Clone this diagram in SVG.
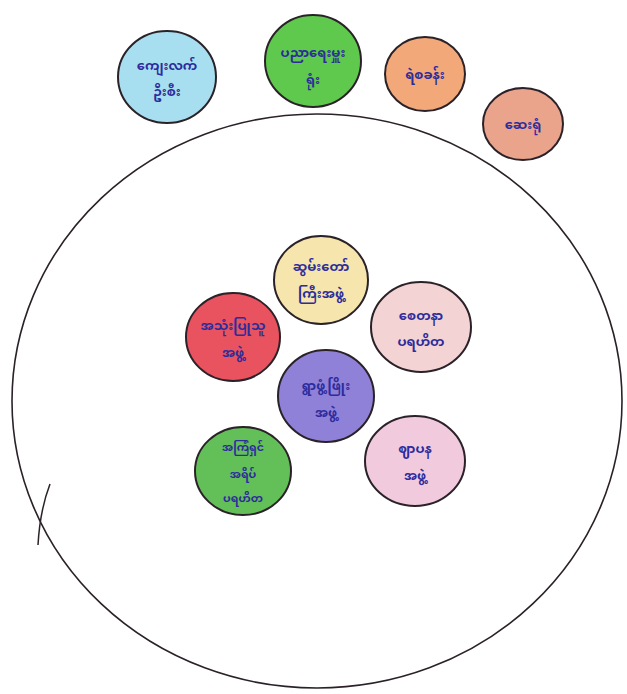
<svg xmlns="http://www.w3.org/2000/svg" width="627" height="694" viewBox="0 0 627 694">
<style>
.c{stroke:#2a2228;stroke-width:2}
.t{font-family:"Noto Sans Myanmar","Padauk","Myanmar Text","Noto Sans",sans-serif;font-size:13px;fill:#2c2c9c;text-anchor:middle;font-weight:bold}
.s{font-size:11px}
</style>
<rect width="627" height="694" fill="#ffffff"/>
<g id="community">
<ellipse cx="317" cy="401" rx="305" ry="287" fill="none" stroke="#2a2228" stroke-width="1.6"/>
<path d="M50 484 Q40 510 38 545" fill="none" stroke="#2a2228" stroke-width="1.5"/>
</g>
<g id="connectors"></g>
<g id="n1"><ellipse class="c" cx="167" cy="77" rx="49" ry="46" fill="#a8dff0"/><text class="t" x="167" y="70">ကျေးလက်</text><text class="t" x="167" y="96">ဦးစီး</text></g>
<g id="n2"><ellipse class="c" cx="313" cy="61" rx="48" ry="46" fill="#5ec94c"/><text class="t" x="313" y="57">ပညာရေးမှူး</text><text class="t" x="313" y="84">ရုံး</text></g>
<g id="n3"><ellipse class="c" cx="425" cy="74" rx="40" ry="37" fill="#f2a878"/><text class="t" x="425" y="79">ရဲစခန်း</text></g>
<g id="n4"><ellipse class="c" cx="523" cy="124" rx="40" ry="36" fill="#eaa48c"/><text class="t" x="523" y="129">ဆေးရုံ</text></g>
<g id="n5"><ellipse class="c" cx="321" cy="280" rx="47" ry="44" fill="#f6e5ad"/><text class="t" x="321" y="271">ဆွမ်းတော်</text><text class="t" x="321" y="298">ကြီးအဖွဲ့</text></g>
<g id="n6"><ellipse class="c" cx="233" cy="337" rx="47" ry="44" fill="#e9525f"/><text class="t" x="233" y="330">အသုံးပြုသူ</text><text class="t" x="233" y="357">အဖွဲ့</text></g>
<g id="n7"><ellipse class="c" cx="421" cy="327" rx="50" ry="45" fill="#f3d3d3"/><text class="t" x="421" y="320">စေတနာ</text><text class="t" x="421" y="346">ပရဟိတ</text></g>
<g id="n8"><ellipse class="c" cx="326" cy="396" rx="48" ry="46" fill="#8f80d8"/><text class="t" x="326" y="390">ရွာဖွံ့ဖြိုး</text><text class="t" x="326" y="417">အဖွဲ့</text></g>
<g id="n9"><ellipse class="c" cx="243" cy="471" rx="48" ry="44" fill="#63bf58"/><text class="t s" x="243" y="451">အကြံရှင်</text><text class="t s" x="243" y="478">အရိပ်</text><text class="t s" x="243" y="502">ပရဟိတ</text></g>
<g id="n10"><ellipse class="c" cx="415" cy="461" rx="50" ry="45" fill="#f1cade"/><text class="t" x="415" y="453">ဈာပန</text><text class="t" x="415" y="480">အဖွဲ့</text></g>
</svg>
